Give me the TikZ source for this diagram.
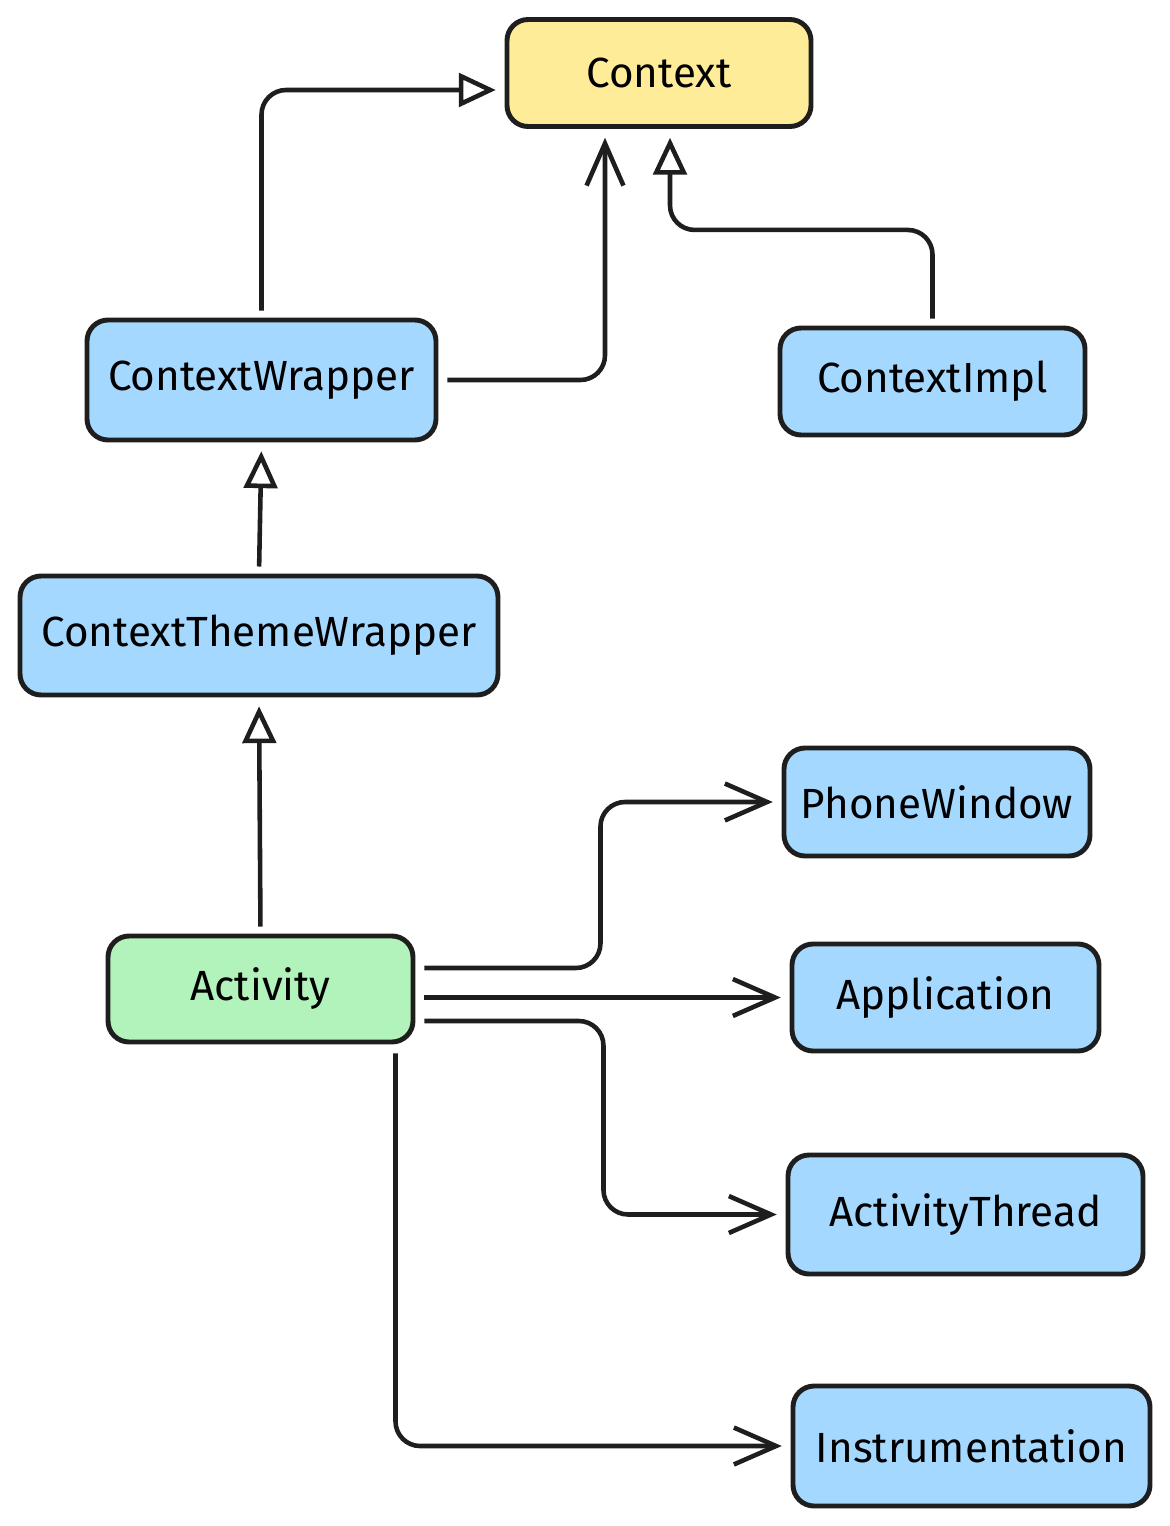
\documentclass[tikz,border=0pt]{standalone}
\usepackage{fontspec}
\setmainfont{Fira Sans}
\usepackage{tikz}
\usetikzlibrary{arrows.meta, positioning, calc}
\definecolor{inkdark}{HTML}{1E1E1E}
\definecolor{ctxyellow}{HTML}{FFEC99}
\definecolor{clsblue}{HTML}{A5D8FF}
\definecolor{actgreen}{HTML}{B2F2BB}

\begin{document}
\begin{tikzpicture}[
  cls/.style={
    draw=inkdark, line width=2.8pt, fill=clsblue, rounded corners=12pt,
    minimum height=2.14cm, align=center, inner sep=0pt,
    font=\fontsize{24}{28}\selectfont
  },
  ctxcls/.style={cls, fill=ctxyellow},
  actcls/.style={cls, fill=actgreen},
  inh/.style={-{Triangle[open, length=21pt, width=19pt, line width=2.6pt]},
    line width=2.6pt, inkdark, rounded corners=14pt, shorten >=5pt, shorten <=4pt},
  uses/.style={-{Straight Barb[length=24pt, width=21pt, line width=2.6pt]},
    line width=2.6pt, inkdark, rounded corners=14pt, shorten >=5pt, shorten <=5pt},
]
\useasboundingbox (0,0) rectangle (23.38,-30.52);

% Context hierarchy
\node[ctxcls, minimum width=6.08cm] (ctx) at (13.18, -1.46) {Context};
\node[cls, minimum width=6.98cm, minimum height=2.4cm] (wrap) at (5.23, -7.6) {ContextWrapper};
\node[cls, minimum width=6.1cm] (impl) at (18.65, -7.63) {ContextImpl};
\node[cls, minimum width=9.56cm, minimum height=2.38cm] (theme) at (5.18, -12.71) {ContextThemeWrapper};

% Activity and its members
\node[actcls, minimum width=6.1cm, minimum height=2.12cm] (act) at (5.21, -19.78) {Activity};
\node[cls, minimum width=6.12cm, minimum height=2.16cm] (phone) at (18.74, -16.04) {PhoneWindow};
\node[cls, minimum width=6.14cm] (app) at (18.91, -19.95) {Application};
\node[cls, minimum width=7.1cm, minimum height=2.38cm] (thread) at (19.31, -24.29) {ActivityThread};
\node[cls, minimum width=7.14cm, minimum height=2.4cm] (instr) at (19.43, -28.92) {Instrumentation};

% Inheritance arrows
\draw[inh] (wrap.north) |- ([yshift=-0.34cm]ctx.west);
\draw[uses] (wrap.east) -| ([xshift=-1.08cm]ctx.south);
\draw[inh] (impl.north) |- ($(ctx.south)+(0.22,-2.02)$) -- ([xshift=0.22cm]ctx.south);
\draw[inh] (theme.north) -- (wrap.south);
\draw[inh] (act.north) -- (theme.south);

% Member arrows
\draw[uses] ([yshift=0.42cm]act.east) -- ++(3.7,0) |- (phone.west);
\draw[uses] ([yshift=-0.17cm]act.east) -- (app.west);
\draw[uses] ([yshift=-0.64cm]act.east) -- ++(3.76,0) |- (thread.west);
\draw[uses] ([xshift=2.7cm]act.south) |- (instr.west);

\end{tikzpicture}
\end{document}
